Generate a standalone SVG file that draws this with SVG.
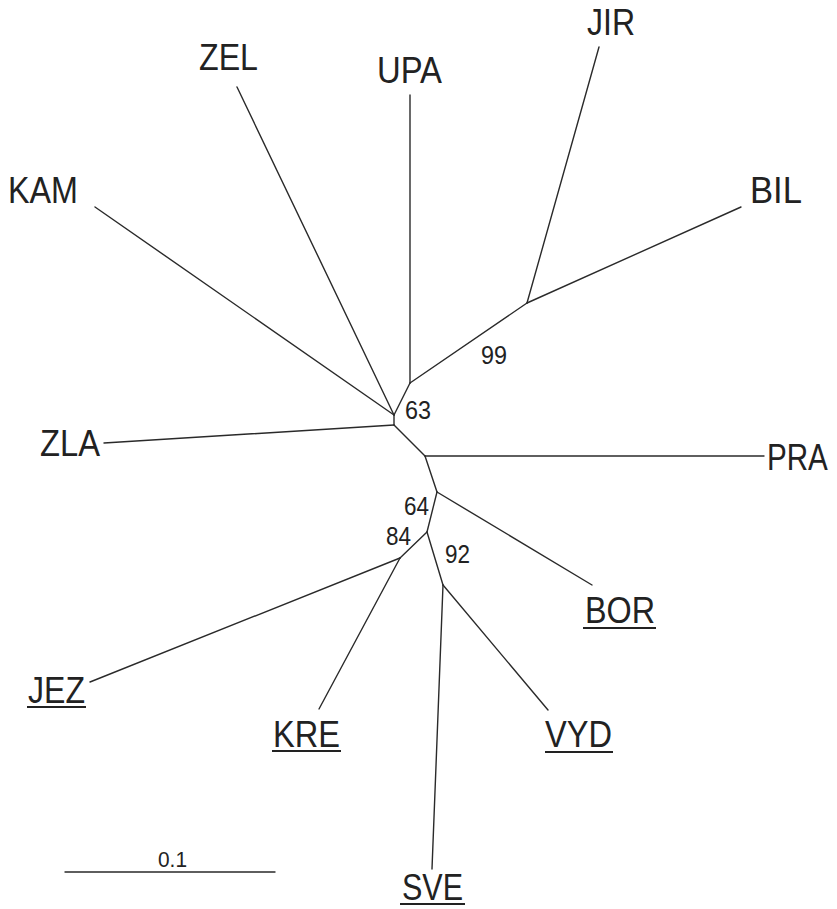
<svg xmlns="http://www.w3.org/2000/svg" width="837" height="909" viewBox="0 0 837 909">
<style>
.e{stroke:#2a2a2a;stroke-width:1.4;fill:none;stroke-linecap:round}
.t{font-family:"Liberation Sans",Arial,sans-serif;font-size:37px;fill:#222}
.b{font-family:"Liberation Sans",Arial,sans-serif;font-size:25px;fill:#222}
.s{font-family:"Liberation Sans",Arial,sans-serif;font-size:22px;fill:#222}
.u{stroke:#222;stroke-width:2}
</style>
<rect width="837" height="909" fill="#fff"/>
<g id="connectors">
<line class="e" x1="410" y1="95" x2="410" y2="383"/>
<line class="e" x1="410" y1="383" x2="527" y2="303"/>
<line class="e" x1="527" y1="303" x2="599" y2="47"/>
<line class="e" x1="527" y1="303" x2="741" y2="207"/>
<line class="e" x1="410" y1="383" x2="394" y2="415"/>
<line class="e" x1="237" y1="87" x2="394" y2="415"/>
<line class="e" x1="95" y1="207" x2="394" y2="415"/>
<line class="e" x1="394" y1="415" x2="394" y2="425"/>
<line class="e" x1="104" y1="443" x2="394" y2="425"/>
<line class="e" x1="394" y1="425" x2="425" y2="456"/>
<line class="e" x1="425" y1="456" x2="764" y2="456"/>
<line class="e" x1="425" y1="456" x2="437" y2="492"/>
<line class="e" x1="437" y1="492" x2="592" y2="585"/>
<line class="e" x1="437" y1="492" x2="427" y2="532"/>
<line class="e" x1="427" y1="532" x2="400" y2="558"/>
<line class="e" x1="400" y1="558" x2="90" y2="682"/>
<line class="e" x1="400" y1="558" x2="319" y2="709"/>
<line class="e" x1="427" y1="532" x2="443" y2="585"/>
<line class="e" x1="443" y1="585" x2="548" y2="710"/>
<line class="e" x1="443" y1="585" x2="432" y2="869"/>
</g>
<g id="ZEL"><text class="t" x="199" y="70" textLength="59" lengthAdjust="spacingAndGlyphs">ZEL</text></g>
<g id="UPA"><text class="t" x="377" y="83" textLength="65" lengthAdjust="spacingAndGlyphs">UPA</text></g>
<g id="JIR"><text class="t" x="587" y="35" textLength="48" lengthAdjust="spacingAndGlyphs">JIR</text></g>
<g id="KAM"><text class="t" x="8" y="203" textLength="70" lengthAdjust="spacingAndGlyphs">KAM</text></g>
<g id="BIL"><text class="t" x="750" y="203" textLength="52" lengthAdjust="spacingAndGlyphs">BIL</text></g>
<g id="ZLA"><text class="t" x="40" y="456" textLength="60" lengthAdjust="spacingAndGlyphs">ZLA</text></g>
<g id="PRA"><text class="t" transform="translate(767,470) scale(0.8,1)">PRA</text></g>
<g id="BOR"><text class="t" x="585" y="623" textLength="70" lengthAdjust="spacingAndGlyphs">BOR</text><line class="u" x1="583" y1="628" x2="656" y2="628"/></g>
<g id="VYD"><text class="t" x="545" y="747" textLength="67" lengthAdjust="spacingAndGlyphs">VYD</text><line class="u" x1="545" y1="752" x2="613" y2="752"/></g>
<g id="JEZ"><text class="t" x="28" y="703" textLength="57" lengthAdjust="spacingAndGlyphs">JEZ</text><line class="u" x1="27" y1="707" x2="86" y2="707"/></g>
<g id="KRE"><text class="t" x="273" y="747" textLength="67" lengthAdjust="spacingAndGlyphs">KRE</text><line class="u" x1="272" y1="751" x2="341" y2="751"/></g>
<g id="SVE"><text class="t" x="402" y="900" textLength="61" lengthAdjust="spacingAndGlyphs">SVE</text><line class="u" x1="400" y1="904" x2="465" y2="904"/></g>
<g id="bootstrap">
<text class="b" x="405" y="419" textLength="26" lengthAdjust="spacingAndGlyphs">63</text>
<text class="b" x="481" y="364" textLength="26" lengthAdjust="spacingAndGlyphs">99</text>
<text class="b" x="404" y="515" textLength="25" lengthAdjust="spacingAndGlyphs">64</text>
<text class="b" x="386" y="545" textLength="25" lengthAdjust="spacingAndGlyphs">84</text>
<text class="b" x="445" y="563" textLength="25" lengthAdjust="spacingAndGlyphs">92</text>
</g>
<g id="scale">
<line class="e" x1="65" y1="872" x2="275" y2="872"/>
<text class="s" x="158" y="867" textLength="29" lengthAdjust="spacingAndGlyphs">0.1</text>
</g>
</svg>
